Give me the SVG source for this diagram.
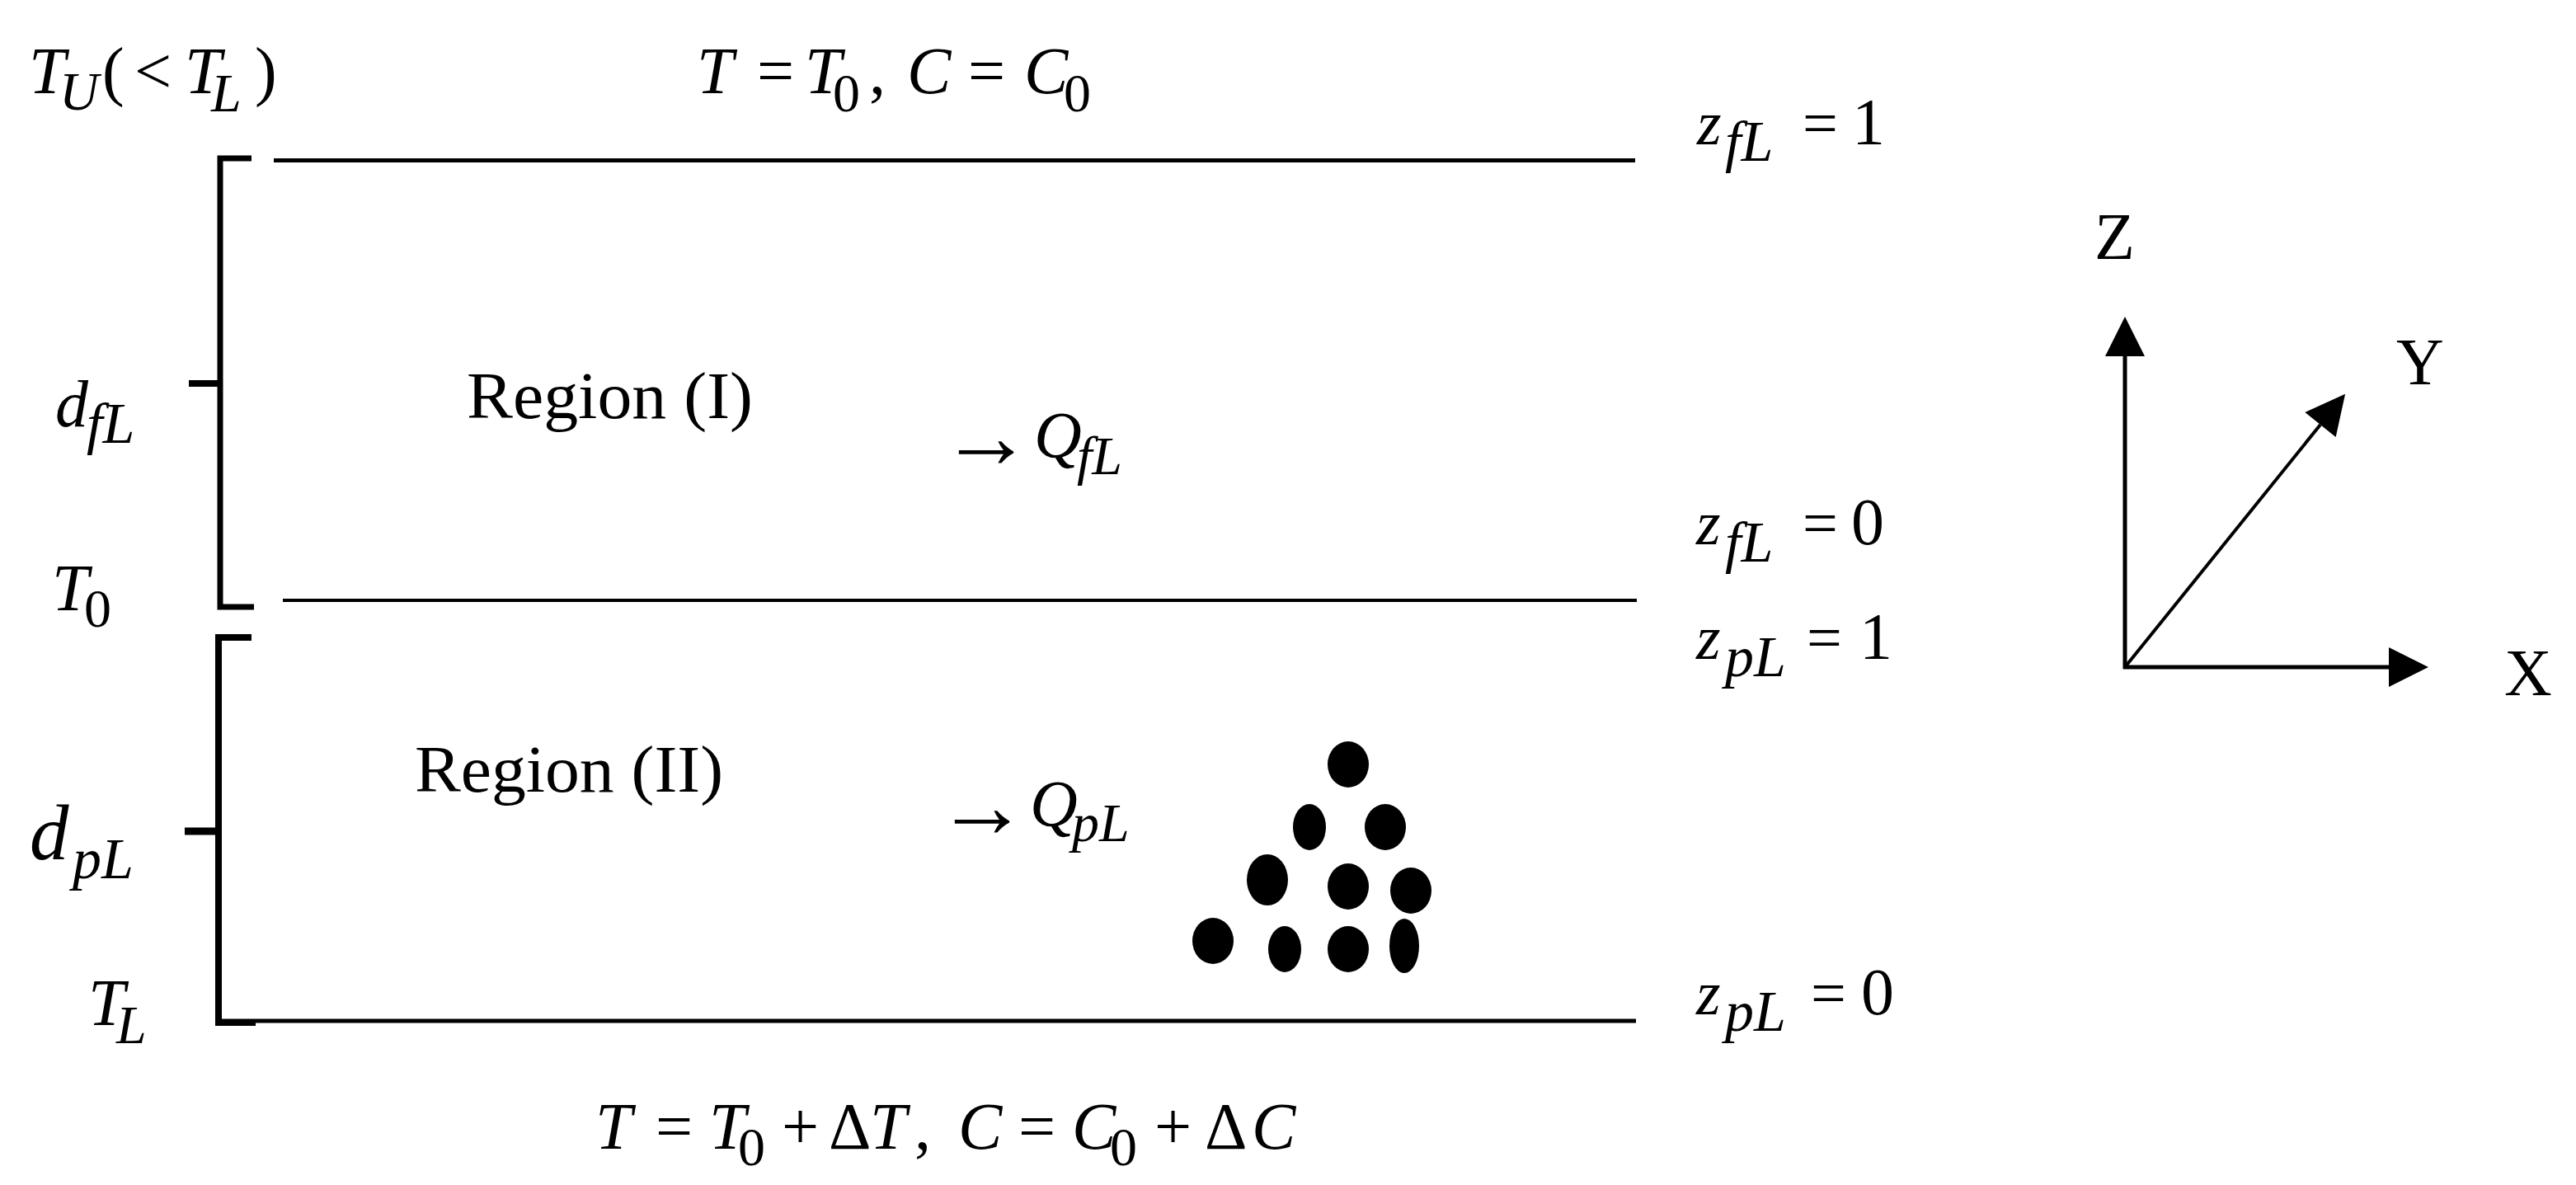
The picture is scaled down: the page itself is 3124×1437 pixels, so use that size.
<svg xmlns="http://www.w3.org/2000/svg" width="3124" height="1437" viewBox="0 0 3124 1437">
<defs>
<style>
text{font-family:"Liberation Serif","Times New Roman",serif;fill:#000;font-size:80px}
.i{font-style:italic}
.s{font-size:66px}
.ar{font-size:112px}
.ln{stroke:#000;fill:none;stroke-linecap:butt}
.dot{fill:#000}
</style>
<marker id="ah" viewBox="0 0 50 50" refX="0" refY="25" markerWidth="50" markerHeight="48" markerUnits="userSpaceOnUse" orient="auto">
<path d="M0,0 L50,25 L0,50 Z" fill="#000"/>
</marker>
</defs>
<rect width="3124" height="1437" fill="#fff"/>

<g id="layers">
<line class="ln" x1="332" y1="194.5" x2="1983" y2="194.5" stroke-width="5"/>
<line class="ln" x1="343" y1="728" x2="1985" y2="728" stroke-width="4"/>
<line class="ln" x1="265" y1="1238" x2="1984" y2="1238" stroke-width="5"/>
</g>

<g id="bracket-I">
<path class="ln" d="M305,192 H267 V736 H308" stroke-width="7"/>
<path class="ln" d="M229,465 H267" stroke-width="8"/>
</g>
<g id="bracket-II">
<path class="ln" d="M305,773 H265 V1240 H310" stroke-width="8"/>
<path class="ln" d="M224,1008 H265" stroke-width="9"/>
</g>

<g id="label-top-left">
<text y="113"><tspan class="i" x="35">T</tspan><tspan class="i s" x="72" y="133">U</tspan><tspan x="124" y="113">(</tspan><tspan x="163">&lt;</tspan><tspan class="i" x="224">T</tspan><tspan class="i s" x="256" y="135">L</tspan><tspan x="309" y="113">)</tspan></text>
</g>
<g id="label-top">
<text y="113"><tspan class="i" x="845">T</tspan><tspan x="918">=</tspan><tspan class="i" x="976">T</tspan><tspan class="s" x="1010" y="135">0</tspan><tspan x="1054" y="113">,</tspan><tspan class="i" x="1100">C</tspan><tspan x="1174">=</tspan><tspan class="i" x="1242">C</tspan><tspan class="s" x="1290" y="135">0</tspan></text>
</g>
<g id="label-bottom">
<text y="1393"><tspan class="i" x="722">T</tspan><tspan x="795">=</tspan><tspan class="i" x="860">T</tspan><tspan class="s" x="895" y="1413">0</tspan><tspan x="948" y="1393">+</tspan><tspan x="1005">Δ</tspan><tspan class="i" x="1055">T</tspan><tspan x="1109">,</tspan><tspan class="i" x="1162">C</tspan><tspan x="1235">=</tspan><tspan class="i" x="1300">C</tspan><tspan class="s" x="1346" y="1413">0</tspan><tspan x="1400" y="1393">+</tspan><tspan x="1461">Δ</tspan><tspan class="i" x="1518">C</tspan></text>
</g>

<g id="label-zfL1">
<text y="175"><tspan class="i" x="2058" font-size="76">z</tspan><tspan class="i" x="2092" y="195" font-size="70">fL</tspan><tspan x="2186" y="175" font-size="76">=</tspan><tspan x="2246">1</tspan></text>
</g>
<g id="label-zfL0">
<text y="660"><tspan class="i" x="2057" font-size="76">z</tspan><tspan class="i" x="2092" y="681" font-size="70">fL</tspan><tspan x="2186" y="660" font-size="76">=</tspan><tspan x="2245">0</tspan></text>
</g>
<g id="label-zpL1">
<text y="799"><tspan class="i" x="2057" font-size="76">z</tspan><tspan class="i" x="2092" y="820" font-size="70">pL</tspan><tspan x="2191" y="799" font-size="76">=</tspan><tspan x="2255">1</tspan></text>
</g>
<g id="label-zpL0">
<text y="1230"><tspan class="i" x="2057" font-size="76">z</tspan><tspan class="i" x="2092" y="1250" font-size="70">pL</tspan><tspan x="2196" y="1230" font-size="76">=</tspan><tspan x="2257">0</tspan></text>
</g>

<g id="label-dfL">
<text y="517"><tspan class="i" x="67">d</tspan><tspan class="i" x="105" y="537" font-size="70">fL</tspan></text>
</g>
<g id="label-T0">
<text y="740"><tspan class="i" x="63">T</tspan><tspan class="s" x="102" y="760">0</tspan></text>
</g>
<g id="label-dpL">
<text y="1042"><tspan class="i" x="36" font-size="95">d</tspan><tspan class="i" x="88" y="1065" font-size="70">pL</tspan></text>
</g>
<g id="label-TL">
<text y="1243"><tspan class="i" x="107">T</tspan><tspan class="i s" x="141" y="1265">L</tspan></text>
</g>

<g id="region-I">
<text x="566" y="507" font-size="82" textLength="347" lengthAdjust="spacingAndGlyphs">Region (I)</text>
</g>
<g id="region-II">
<text x="503" y="960" font-size="84" textLength="374" lengthAdjust="spacingAndGlyphs">Region (II)</text>
</g>

<g id="flux-QfL">
<text y="555"><tspan class="ar" x="1140" y="567">→</tspan><tspan class="i" x="1254" y="555">Q</tspan><tspan class="i s" x="1306" y="575">fL</tspan></text>
</g>
<g id="flux-QpL">
<text y="1002"><tspan class="ar" x="1135" y="1015">→</tspan><tspan class="i" x="1249" y="1002">Q</tspan><tspan class="i s" x="1300" y="1020">pL</tspan></text>
</g>

<g id="particles">
<ellipse class="dot" cx="1635" cy="927" rx="25" ry="28"/>
<ellipse class="dot" cx="1588" cy="1003" rx="20" ry="28"/>
<ellipse class="dot" cx="1680" cy="1003" rx="25" ry="28"/>
<ellipse class="dot" cx="1537" cy="1067" rx="25" ry="31"/>
<ellipse class="dot" cx="1635" cy="1075" rx="25" ry="28"/>
<ellipse class="dot" cx="1711" cy="1080" rx="25" ry="28"/>
<ellipse class="dot" cx="1471" cy="1141" rx="25" ry="28"/>
<ellipse class="dot" cx="1558" cy="1151" rx="20" ry="28"/>
<ellipse class="dot" cx="1635" cy="1151" rx="25" ry="28"/>
<ellipse class="dot" cx="1703" cy="1147" rx="18" ry="33"/>
</g>

<g id="connectors">
<line class="ln" x1="2577" y1="811" x2="2577" y2="432" stroke-width="5" marker-end="url(#ah)"/>
<line class="ln" x1="2575" y1="809" x2="2897" y2="809" stroke-width="5" marker-end="url(#ah)"/>
<line class="ln" x1="2577" y1="809" x2="2814" y2="515" stroke-width="4" marker-end="url(#ah)"/>
</g>
<g id="axis-labels">
<text x="2540" y="314" font-size="85">Z</text>
<text x="2906" y="466" font-size="85">Y</text>
<text x="3037" y="843" font-size="85">X</text>
</g>
</svg>
